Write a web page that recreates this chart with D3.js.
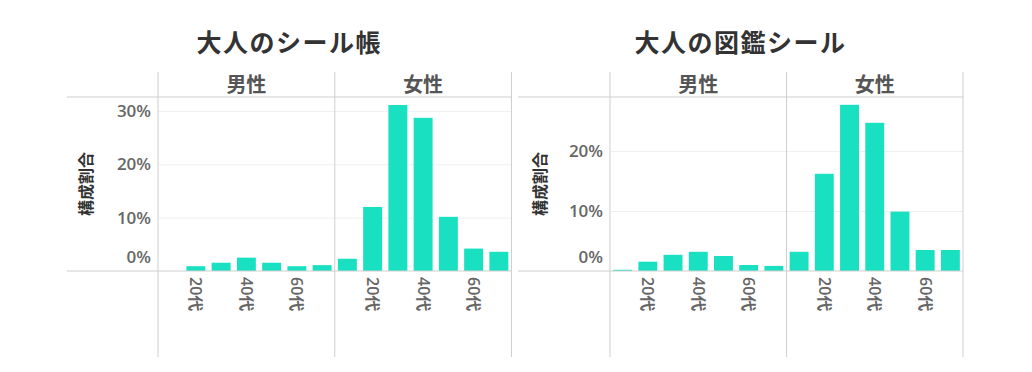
<!DOCTYPE html>
<html>
<head>
<meta charset="utf-8">
<script src="https://cdn.jsdelivr.net/npm/d3@7"></script>
<style>
  html, body { margin: 0; padding: 0; background: #fff; }
  svg { display: block; }
</style>
</head>
<body>
<svg id="chart" width="1032" height="372"></svg>
<script>
// ---- data ----
const ageGroups = ["10代", "20代", "30代", "40代", "50代", "60代", "70代"];
const genders = ["男性", "女性"];
const ageTickLabels = ["20代", "40代", "60代"];

const titles = ["大人のシール帳", "大人の図鑑シール"];
const yAxisTitle = "構成割合";

// composition ratio (%) by age group
const stickerBookMale   = [0, 0.9, 1.55, 2.5, 1.55, 0.9, 1.1];
const stickerBookFemale = [2.3, 12.0, 31.1, 28.7, 10.15, 4.2, 3.6];
const zukanMale         = [0.2, 1.55, 2.7, 3.2, 2.5, 1.0, 0.85];
const zukanFemale       = [3.2, 16.2, 27.7, 24.7, 9.9, 3.5, 3.5];

const yTicksBook  = [0, 10, 20, 30];
const yTicksZukan = [0, 10, 20];
const yMaxBook  = 32.6;
const yMaxZukan = 29;

// ---- drawing ----
const svg = d3.select("#chart");
const barColor = "#1ae0c2";
const borderColor = "#cfcfcf";
const gridColor = "#efefef";
const latinFont = "'Open Sans', 'Noto Sans CJK JP', sans-serif";
const cjkFont = "'Noto Sans CJK JP', 'Noto Sans', sans-serif";

function drawChart(cfg) {
  const g = svg.append("g");
  const top = 97, bottom = 271, headTop = 72, lineBottom = 357;
  const x0 = cfg.plotLeft, x1 = cfg.plotRight;

  const panelScale = d3.scaleBand().domain(genders).range([x0, x1]);
  const y = d3.scaleLinear().domain([0, cfg.yMax]).range([bottom, top]);

  // title
  g.append("text")
    .attr("x", (cfg.frameLeft + x1) / 2)
    .attr("y", 52)
    .attr("text-anchor", "middle")
    .attr("font-family", cjkFont)
    .attr("font-weight", "bold")
    .attr("font-size", 25)
    .attr("letter-spacing", 1.5)
    .attr("fill", "#333")
    .text(cfg.title);

  // gridlines
  const yAxis = d3.axisLeft(y).tickValues(cfg.yTicks).tickSize(-(x1 - x0)).tickFormat("");
  const grid = g.append("g").attr("transform", `translate(${x0},0)`).call(yAxis);
  grid.select(".domain").remove();
  grid.selectAll(".tick line").attr("stroke", d => d === 0 ? "none" : gridColor);

  // y tick labels
  g.selectAll(".ylab").data(cfg.yTicks).enter().append("text")
    .attr("x", x0 - 7)
    .attr("y", d => d === 0 ? y(d) - 14 : y(d))
    .attr("dy", "0.35em")
    .attr("text-anchor", "end")
    .attr("font-family", latinFont)
    .attr("font-weight", 600)
    .attr("font-size", 17)
    .attr("fill", "#666")
    .text(d => d + "%");

  // y axis title
  g.append("text")
    .attr("transform", `translate(${cfg.yTitleX},${(top + bottom) / 2}) rotate(-90)`)
    .attr("text-anchor", "middle")
    .attr("dy", "0.36em")
    .attr("font-family", cjkFont)
    .attr("font-weight", "bold")
    .attr("font-size", 16)
    .attr("fill", "#333")
    .text(yAxisTitle);

  // panels
  const series = [cfg.male, cfg.female];
  genders.forEach((gender, i) => {
    const px0 = panelScale(gender), px1 = px0 + panelScale.bandwidth();
    const x = d3.scaleBand().domain(ageGroups).range([px0, px1])
      .paddingInner(0.25).paddingOuter(0.125);

    // header label
    g.append("text")
      .attr("x", (px0 + px1) / 2)
      .attr("y", 92)
      .attr("text-anchor", "middle")
      .attr("font-family", cjkFont)
      .attr("font-weight", "bold")
      .attr("font-size", 20)
      .attr("fill", "#555")
      .text(gender);

    // bars
    g.selectAll(null).data(ageGroups.map((a, k) => ({ a, v: series[i][k] })))
      .enter().append("rect")
      .attr("x", d => x(d.a))
      .attr("width", x.bandwidth())
      .attr("y", d => y(d.v))
      .attr("height", d => y(0) - y(d.v))
      .attr("fill", barColor);

    // x labels
    const xAxis = d3.axisBottom(x).tickValues(ageTickLabels).tickSize(0).tickPadding(0);
    const ax = g.append("g").attr("transform", `translate(0,${bottom})`).call(xAxis);
    ax.select(".domain").remove();
    ax.selectAll(".tick text")
      .attr("transform", "translate(0,6) rotate(90)")
      .attr("x", 0).attr("y", 0)
      .attr("dy", "0.35em")
      .attr("text-anchor", "start")
      .attr("font-family", latinFont)
      .attr("font-weight", 600)
      .attr("font-size", 16)
      .attr("fill", "#666");

    // panel left divider
    g.append("line")
      .attr("x1", px0).attr("x2", px0)
      .attr("y1", headTop).attr("y2", lineBottom)
      .attr("stroke", borderColor);
  });

  // right border
  g.append("line")
    .attr("x1", x1).attr("x2", x1)
    .attr("y1", headTop).attr("y2", lineBottom)
    .attr("stroke", borderColor);

  // header line and baseline
  [top, bottom].forEach(yy => {
    g.append("line")
      .attr("x1", cfg.frameLeft).attr("x2", x1)
      .attr("y1", yy).attr("y2", yy)
      .attr("stroke", borderColor);
  });
}

drawChart({
  title: titles[0], male: stickerBookMale, female: stickerBookFemale,
  yTicks: yTicksBook, yMax: yMaxBook,
  frameLeft: 67, plotLeft: 158, plotRight: 511.5, yTitleX: 86
});
drawChart({
  title: titles[1], male: zukanMale, female: zukanFemale,
  yTicks: yTicksZukan, yMax: yMaxZukan,
  frameLeft: 518, plotLeft: 610, plotRight: 963, yTitleX: 540
});
</script>
</body>
</html>
